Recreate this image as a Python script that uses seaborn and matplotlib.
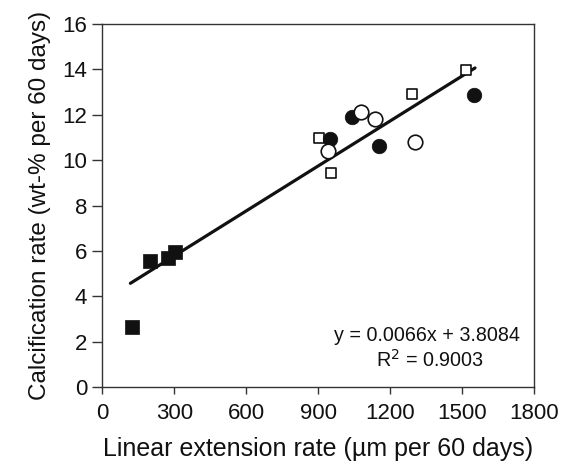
import numpy as np
import pandas as pd
import matplotlib
matplotlib.use("Agg")
import matplotlib.pyplot as plt
import seaborn as sns

# Data
sq_filled_x = [124, 199, 274, 304]
sq_filled_y = [2.64, 5.58, 5.71, 5.96]
sq_open_x = [902, 954, 1291, 1518]
sq_open_y = [11.0, 9.43, 12.92, 13.98]
ci_filled_x = [948, 1041, 1152, 1549]
ci_filled_y = [10.94, 11.92, 10.62, 12.86]
ci_open_x = [941, 1080, 1136, 1304]
ci_open_y = [10.41, 12.14, 11.83, 10.79]

slope = 0.0066
intercept = 3.8084
r2 = 0.9003

x_ticks = [0, 300, 600, 900, 1200, 1500, 1800]
y_ticks = [0, 2, 4, 6, 8, 10, 12, 14, 16]

sns.set_style("ticks")
plt.rcParams['font.family'] = ['Liberation Sans', 'DejaVu Sans']

fig = plt.figure(figsize=(5.61, 4.68), dpi=100)
ax = fig.add_axes([0.1824, 0.1724, 0.9519 - 0.1824, 0.9487 - 0.1724])

# regression line
all_x = np.array(sq_filled_x + sq_open_x + ci_filled_x + ci_open_x, dtype=float)
lx = np.array([all_x.min() - 7, all_x.max() + 5])
line_df = pd.DataFrame({"x": lx, "y": slope * lx + intercept})
sns.lineplot(data=line_df, x="x", y="y", ax=ax, color="#111111", linewidth=2.3, zorder=2)

sns.scatterplot(x=sq_filled_x, y=sq_filled_y, ax=ax, marker="s", s=100,
                color="#111111", edgecolor="#111111", linewidth=0.5, zorder=3)
sns.scatterplot(x=sq_open_x, y=sq_open_y, ax=ax, marker="s", s=60,
                facecolor="white", edgecolor="#111111", linewidth=1.2, zorder=3)
sns.scatterplot(x=ci_filled_x, y=ci_filled_y, ax=ax, marker="o", s=110,
                color="#111111", edgecolor="#111111", linewidth=0.5, zorder=3)
sns.scatterplot(x=ci_open_x, y=ci_open_y, ax=ax, marker="o", s=110,
                facecolor="white", edgecolor="#111111", linewidth=1.2, zorder=3)

ax.set_xlim(0, 1800)
ax.set_ylim(0, 16)
ax.set_xticks(x_ticks)
ax.set_yticks(y_ticks)
ax.tick_params(axis="both", labelsize=16, direction="out", length=5, width=1,
               color="#333333", labelcolor="#111111")
ax.tick_params(axis="y", length=7, pad=4)
ax.tick_params(axis="x", pad=6)
for s in ax.spines.values():
    s.set_visible(True)
    s.set_color("#333333")
    s.set_linewidth(1)

ax.set_xlabel("Linear extension rate (µm per 60 days)", fontsize=18, color="#111111", labelpad=10)
ax.set_ylabel("Calcification rate (wt-% per 60 days)", fontsize=17.5, color="#111111", labelpad=8)

ax.text(0.753, 0.144, f"y = {slope}x + {intercept}", transform=ax.transAxes,
        ha="center", va="center", fontsize=14.2, color="#111111")
ax.text(0.759, 0.075, f"R$^2$ = {r2}", transform=ax.transAxes,
        ha="center", va="center", fontsize=14.2, color="#111111")

fig.savefig("out.png", dpi=100)
